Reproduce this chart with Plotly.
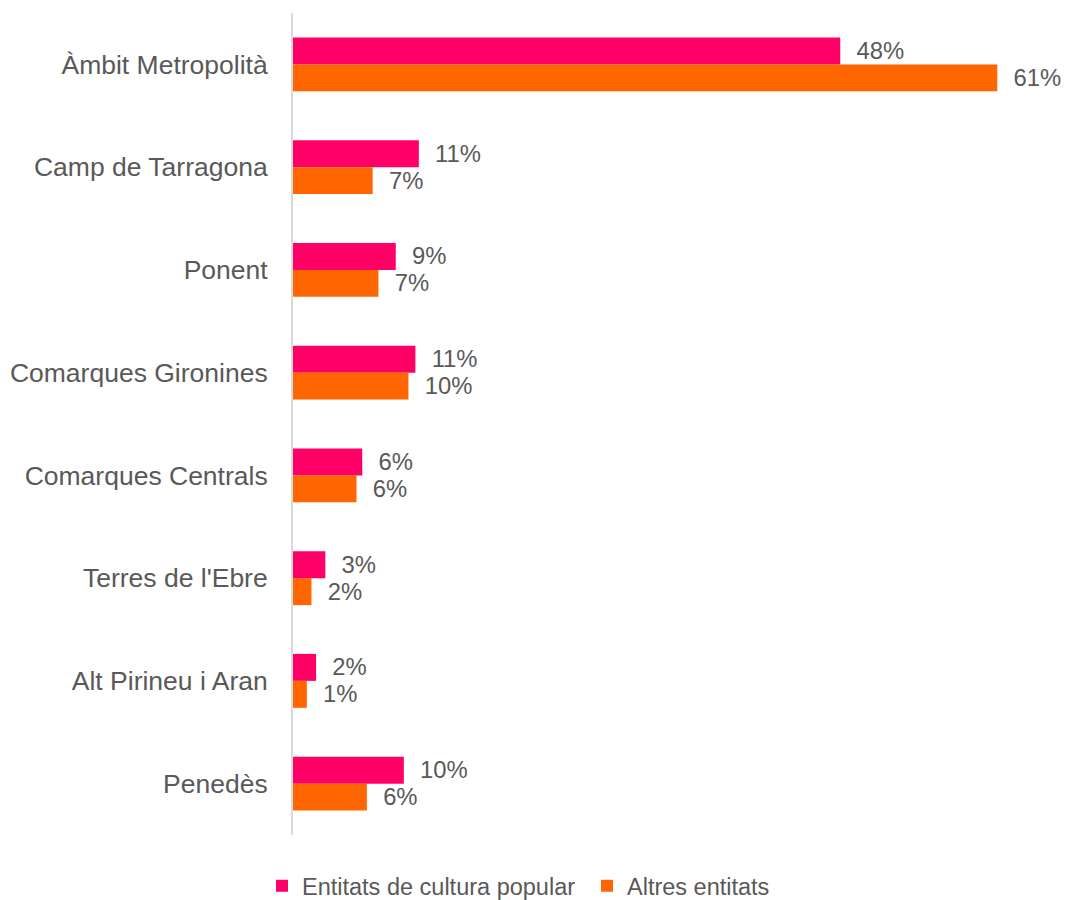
import plotly.graph_objects as go

categories = ["Àmbit Metropolità", "Camp de Tarragona", "Ponent", "Comarques Gironines",
              "Comarques Centrals", "Terres de l'Ebre", "Alt Pirineu i Aran", "Penedès"]
cultura_popular = [47.4, 10.9, 8.9, 10.6, 6.0, 2.8, 2.0, 9.6]
cultura_labels = ["48%", "11%", "9%", "11%", "6%", "3%", "2%", "10%"]
altres = [61.0, 6.9, 7.4, 10.0, 5.5, 1.6, 1.2, 6.4]
altres_labels = ["61%", "7%", "7%", "10%", "6%", "2%", "1%", "6%"]

FONT = "Liberation Sans, Arial, sans-serif"
TXT = "#595959"
FS = 26.5

fig = go.Figure()
fig.add_trace(go.Bar(
    y=categories, x=cultura_popular, orientation="h", name="Entitats de cultura popular",
    marker=dict(color="#FF0066", line=dict(width=0)),
    text=["  " + t for t in cultura_labels], textposition="outside", cliponaxis=False,
    textfont=dict(family=FONT, size=FS, color=TXT),
))
fig.add_trace(go.Bar(
    y=categories, x=altres, orientation="h", name="Altres entitats",
    marker=dict(color="#FF6600", line=dict(width=0)),
    text=["  " + t for t in altres_labels], textposition="outside", cliponaxis=False,
    textfont=dict(family=FONT, size=FS, color=TXT),
))

fig.update_layout(
    width=1067, height=900,
    paper_bgcolor="white", plot_bgcolor="white",
    margin=dict(l=293, r=12, t=13, b=65, autoexpand=False),
    barmode="group", bargap=0.475, bargroupgap=0,
    font=dict(family=FONT, size=FS, color=TXT),
    showlegend=True,
    legend=dict(orientation="h", xref="container", x=262 / 1067, xanchor="left",
                yref="container", y=1 - 886 / 900, yanchor="middle",
                entrywidth=280, entrywidthmode="pixels",
                font=dict(family=FONT, size=23.5, color=TXT), traceorder="normal"),
)
fig.update_xaxes(range=[0, 66], visible=False, showgrid=False, zeroline=False, automargin=False)
fig.update_yaxes(autorange="reversed", showline=True, linecolor="#D9D9D9", linewidth=2,
                 ticks="", ticklabelstandoff=18, showgrid=False, automargin=False,
                 tickfont=dict(family=FONT, size=FS, color=TXT))

fig.write_html("out.html", config={"displayModeBar": False},
               post_script="document.body.style.margin='0';document.body.style.padding='0';")
